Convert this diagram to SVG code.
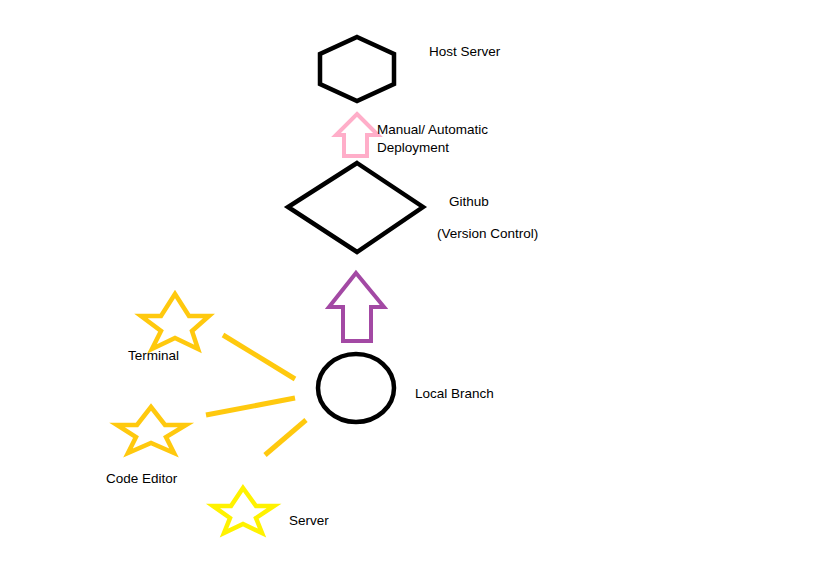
<svg xmlns="http://www.w3.org/2000/svg" width="819" height="562" viewBox="0 0 819 562">
<style>
text{font-family:"Liberation Sans",Arial,sans-serif;font-size:13.5px;fill:#000}
.shape{fill:none;stroke:#000;stroke-width:4.5;stroke-linejoin:miter}
.star{fill:none;stroke:#ffc90e;stroke-width:4.5;stroke-linejoin:miter}
.star2{fill:none;stroke:#fff200;stroke-width:4.5;stroke-linejoin:miter}
.link{stroke:#ffc90e;stroke-width:5;stroke-linecap:butt}
.blk{fill:none;stroke-width:4;stroke-linejoin:miter}
</style>
<rect width="819" height="562" fill="#fff"/>
<g id="connectors">
<path class="blk" stroke="#ffaec9" d="M357,114 L378,135 L367,135 L367,156 L344,156 L344,135 L336,135 Z"/>
<path class="blk" stroke="#a349a4" d="M356,273 L384,307 L371,307 L371,341 L343,341 L343,307 L329,307 Z"/>
<line class="link" x1="223" y1="335" x2="295" y2="379"/>
<line class="link" x1="206" y1="415" x2="295" y2="398"/>
<line class="link" x1="265" y1="455" x2="306" y2="420"/>
</g>
<g id="host-server">
<polygon class="shape" points="357,37 394,54 394,84 357,101 320,84 320,54"/>
<text x="429" y="56">Host Server</text>
</g>
<g id="deploy-label">
<text x="377" y="134">Manual/ Automatic</text>
<text x="377" y="152">Deployment</text>
</g>
<g id="github">
<polygon class="shape" points="357,163 423,207 357,252 288,207"/>
<text x="449" y="206">Github</text>
<text x="437" y="238">(Version Control)</text>
</g>
<g id="local-branch">
<ellipse class="shape" cx="356" cy="388" rx="38" ry="34"/>
<text x="415" y="398">Local Branch</text>
</g>
<g id="terminal">
<polygon class="star" points="175,294 189,316 209,316 192,331 198,349 175,338 152,349 161,331 141,316 161,316"/>
<text x="128" y="360">Terminal</text>
</g>
<g id="code-editor">
<polygon class="star" points="151,407 165,425 186,425 166,437 174,453 151,443 128,453 136,437 117,425 137,425"/>
<text x="106" y="483">Code Editor</text>
</g>
<g id="server">
<polygon class="star2" points="243,488 256,506 274,506 256,518 262,533 243,524 224,533 230,518 213,506 231,506"/>
<text x="289" y="525">Server</text>
</g>
</svg>
